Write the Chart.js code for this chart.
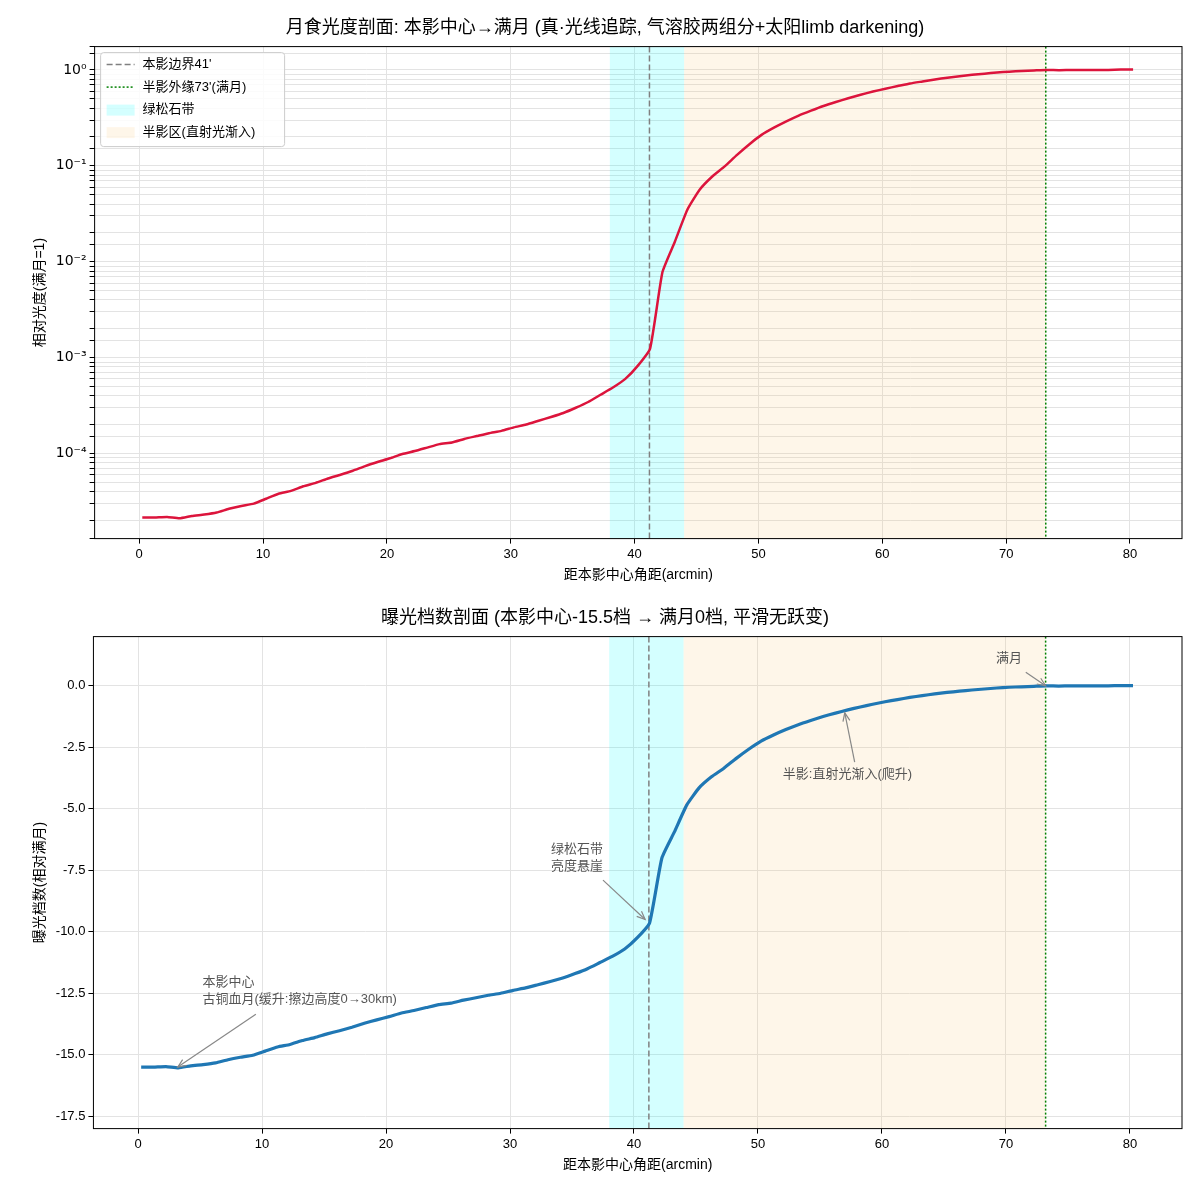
<!DOCTYPE html>
<html lang="zh">
<head>
<meta charset="UTF-8">
<title>月食光度剖面</title>
<script src="https://cdn.jsdelivr.net/npm/chart.js"></script>
<style>
  body { margin: 0; background: #fff; }
  .box { width: 1200px; height: 600px; position: relative; }
</style>
</head>
<body>
<div class="box"><canvas id="top"></canvas></div>
<div class="box"><canvas id="bottom"></canvas></div>
<script>
// distance from umbra centre (arcmin)
const distances = [];
for (let i = 0; i <= 80; i++) distances.push(+(i + 0.25).toFixed(2));

// exposure value relative to full moon
const evValues = [
  -15.50, -15.50, -15.48, -15.53, -15.45, -15.40, -15.33, -15.20, -15.10, -15.02,
  -14.85, -14.68, -14.58, -14.42, -14.30, -14.15, -14.02, -13.88, -13.72, -13.58,
  -13.45, -13.30, -13.20, -13.08, -12.96, -12.90, -12.78, -12.68, -12.58, -12.50,
  -12.38, -12.28, -12.15, -12.02, -11.88, -11.70, -11.50, -11.25, -11.00, -10.70,
  -10.25, -9.65, -7.00, -5.95, -4.85, -4.15, -3.70, -3.35, -2.95, -2.58,
  -2.25, -2.00, -1.78, -1.58, -1.41, -1.25, -1.11, -0.98, -0.86, -0.75,
  -0.65, -0.56, -0.47, -0.40, -0.33, -0.27, -0.22, -0.17, -0.13, -0.09,
  -0.06, -0.04, -0.02, 0.00, -0.01, 0.00, 0.00, 0.00, 0.00, 0.01, 0.01
];
// relative brightness (full moon = 1) is the same profile on a linear scale
const brightness = evValues.map(v => Math.pow(2, v));

const umbraEdge = 41.2;
const penumbraEdge = 73.2;
const turquoiseBand = [38, 44];
const penumbraBand = [44, 73.2];
const xTicks = [0, 10, 20, 30, 40, 50, 60, 70, 80];
const evTicks = [-17.5, -15, -12.5, -10, -7.5, -5, -2.5, 0];

const FONT = "'Liberation Sans', Arial, 'Noto Sans CJK SC', sans-serif";
Chart.defaults.font.family = FONT;
Chart.defaults.color = '#000';

const annotations = [
  { text: ['满月'], at: [69.2, 1.1], from: [71.6, 0.55], to: [73.2, 0] },
  { text: ['半影:直射光渐入(爬升)'], at: [52.0, -3.6], from: [57.8, -3.1], to: [57.0, -1.1] },
  { text: ['绿松石带', '亮度悬崖'], at: [33.3, -6.65], from: [37.5, -7.9], to: [40.9, -9.5] },
  { text: ['本影中心', '古铜血月(缓升:擦边高度0→30km)'], at: [5.2, -12.05], from: [9.5, -13.35], to: [3.2, -15.5] }
];

const bandsPlugin = {
  id: 'bands',
  beforeDatasetsDraw(chart) {
    const { ctx, chartArea: a, scales: { x } } = chart;
    ctx.save();
    ctx.fillStyle = 'rgba(0,255,255,0.17)';
    ctx.fillRect(x.getPixelForValue(turquoiseBand[0]), a.top, x.getPixelForValue(turquoiseBand[1]) - x.getPixelForValue(turquoiseBand[0]), a.bottom - a.top);
    ctx.fillStyle = 'rgba(250,200,120,0.16)';
    ctx.fillRect(x.getPixelForValue(penumbraBand[0]), a.top, x.getPixelForValue(penumbraBand[1]) - x.getPixelForValue(penumbraBand[0]), a.bottom - a.top);
    ctx.lineWidth = 1.5;
    ctx.strokeStyle = '#808080';
    ctx.setLineDash([6, 3]);
    let px = x.getPixelForValue(umbraEdge);
    ctx.beginPath(); ctx.moveTo(px, a.top); ctx.lineTo(px, a.bottom); ctx.stroke();
    ctx.strokeStyle = 'green';
    ctx.setLineDash([2, 2]);
    px = x.getPixelForValue(penumbraEdge);
    ctx.beginPath(); ctx.moveTo(px, a.top); ctx.lineTo(px, a.bottom); ctx.stroke();
    ctx.restore();
  },
  afterDraw(chart) {
    const { ctx, chartArea: a } = chart;
    ctx.save();
    ctx.strokeStyle = '#000';
    ctx.lineWidth = 1;
    ctx.strokeRect(a.left, a.top, a.right - a.left, a.bottom - a.top);
    ctx.restore();
  }
};

const legendPlugin = {
  id: 'mplLegend',
  afterDraw(chart) {
    const { ctx, chartArea: a } = chart;
    const x0 = a.left + 6, y0 = a.top + 6;
    ctx.save();
    ctx.fillStyle = 'rgba(255,255,255,0.85)';
    ctx.strokeStyle = '#ccc';
    ctx.lineWidth = 1;
    ctx.beginPath(); ctx.roundRect(x0, y0, 184, 94, 3); ctx.fill(); ctx.stroke();
    ctx.font = '13px ' + FONT;
    ctx.fillStyle = '#000';
    ctx.textBaseline = 'middle';
    const items = ['本影边界41\'', '半影外缘73\'(满月)', '绿松石带', '半影区(直射光渐入)'];
    items.forEach((t, i) => {
      const y = y0 + 12 + i * 22.5;
      ctx.fillStyle = '#000';
      ctx.fillText(t, x0 + 42, y);
      if (i < 2) {
        ctx.strokeStyle = i === 0 ? '#808080' : 'green';
        ctx.setLineDash(i === 0 ? [6, 3] : [2, 2]);
        ctx.lineWidth = 1.5;
        ctx.beginPath(); ctx.moveTo(x0 + 6, y); ctx.lineTo(x0 + 34, y); ctx.stroke();
      } else {
        ctx.setLineDash([]);
        ctx.fillStyle = i === 2 ? 'rgba(0,255,255,0.17)' : 'rgba(250,200,120,0.16)';
        ctx.fillRect(x0 + 6, y - 5, 28, 11);
      }
    });
    ctx.restore();
  }
};

const notesPlugin = {
  id: 'notes',
  afterDatasetsDraw(chart) {
    const { ctx, scales: { x, y } } = chart;
    ctx.save();
    ctx.font = '13px ' + FONT;
    ctx.textBaseline = 'middle';
    annotations.forEach(n => {
      ctx.fillStyle = '#555';
      n.text.forEach((t, i) => ctx.fillText(t, x.getPixelForValue(n.at[0]), y.getPixelForValue(n.at[1]) + i * 17));
      const fx = x.getPixelForValue(n.from[0]), fy = y.getPixelForValue(n.from[1]);
      const tx = x.getPixelForValue(n.to[0]), ty = y.getPixelForValue(n.to[1]);
      ctx.strokeStyle = '#888';
      ctx.lineWidth = 1.2;
      ctx.beginPath(); ctx.moveTo(fx, fy); ctx.lineTo(tx, ty); ctx.stroke();
      const ang = Math.atan2(ty - fy, tx - fx);
      ctx.beginPath();
      ctx.moveTo(tx - 9 * Math.cos(ang - 0.4), ty - 9 * Math.sin(ang - 0.4));
      ctx.lineTo(tx, ty);
      ctx.lineTo(tx - 9 * Math.cos(ang + 0.4), ty - 9 * Math.sin(ang + 0.4));
      ctx.stroke();
    });
    ctx.restore();
  }
};

const xScale = {
  type: 'linear', min: -3.6, max: 84.2,
  afterBuildTicks: s => { s.ticks = xTicks.map(v => ({ value: v })); },
  ticks: { font: { size: 13 }, maxRotation: 0 },
  grid: { color: '#e3e3e3', drawTicks: true, tickLength: 5, tickColor: '#000' },
  border: { display: false },
  title: { display: true, text: '距本影中心角距(arcmin)', font: { size: 14 }, padding: { top: 2 } }
};

const sup = { '-': '⁻', '0': '⁰', '1': '¹', '2': '²', '3': '³', '4': '⁴', '5': '⁵' };

function makeChart(id, data, color, yScale, title, plugins, pad) {
  return new Chart(document.getElementById(id), {
    type: 'line',
    data: {
      labels: distances,
      datasets: [{
        data: distances.map((d, i) => ({ x: d, y: data[i] })),
        borderColor: color, borderWidth: id === 'top' ? 2.5 : 3.2,
        pointRadius: 0, tension: 0.15, fill: false
      }]
    },
    options: {
      responsive: true, maintainAspectRatio: false, animation: false,
      layout: { padding: pad },
      plugins: {
        legend: { display: false }, tooltip: { enabled: false },
        title: { display: true, text: title, font: { size: 18, weight: 'normal' }, color: '#000', padding: { top: 10, bottom: 8 } }
      },
      scales: { x: xScale, y: yScale }
    },
    plugins: plugins
  });
}

makeChart('top', brightness, '#dc143c', {
  type: 'logarithmic', min: 1.3e-5, max: 1.75,
  ticks: {
    font: { size: 14, family: "'DejaVu Sans', sans-serif" }, autoSkip: false,
    callback: v => {
      const l = Math.log10(v);
      if (Math.abs(l - Math.round(l)) > 1e-9) return '';
      return '10' + String(Math.round(l)).split('').map(c => sup[c]).join('');
    }
  },
  grid: { color: '#e3e3e3', tickColor: '#000', tickLength: 5 },
  border: { display: false },
  title: { display: true, text: '相对光度(满月=1)', font: { size: 14 } }
}, '月食光度剖面: 本影中心→满月 (真·光线追踪, 气溶胶两组分+太阳limb darkening)', [bandsPlugin, legendPlugin],
{ left: 28, right: 18, top: 7, bottom: 12 });

makeChart('bottom', evValues, '#1f77b4', {
  type: 'linear', min: -18, max: 2,
  afterBuildTicks: s => { s.ticks = evTicks.map(v => ({ value: v })); },
  ticks: { font: { size: 13 }, callback: v => v.toFixed(1) },
  grid: { color: '#e3e3e3', tickColor: '#000', tickLength: 5 },
  border: { display: false },
  title: { display: true, text: '曝光档数(相对满月)', font: { size: 14 } }
}, '曝光档数剖面 (本影中心-15.5档 → 满月0档, 平滑无跃变)', [bandsPlugin, notesPlugin],
{ left: 28, right: 18, top: -3, bottom: 22 });
</script>
</body>
</html>
